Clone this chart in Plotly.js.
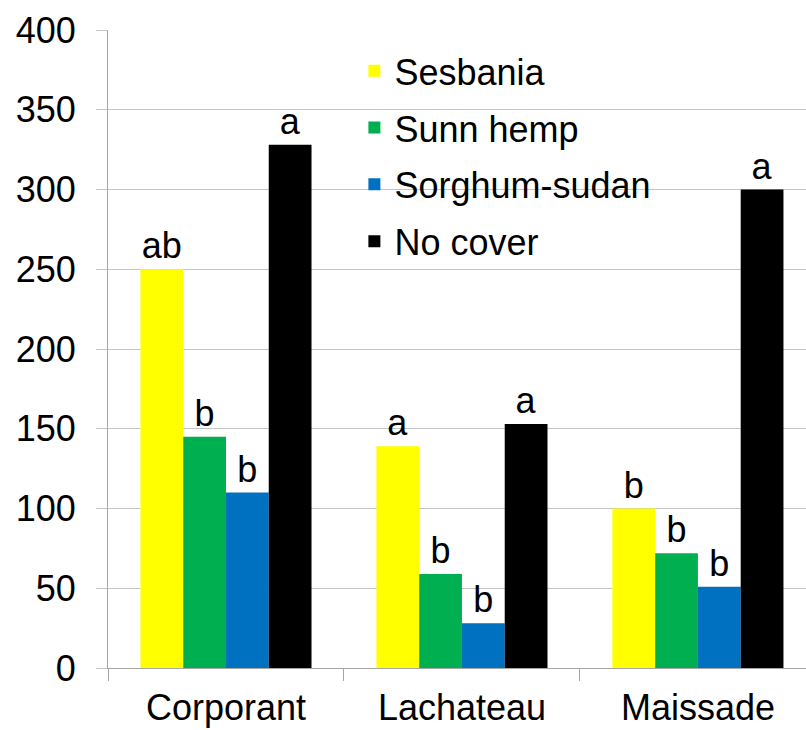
<!DOCTYPE html>
<html>
<head>
<meta charset="utf-8">
<script src="https://cdn.plot.ly/plotly-3.0.1.min.js"></script>
<style>html,body{margin:0;padding:0;background:#fff;}#chart{width:806px;height:730px;}</style>
</head>
<body>
<div id="chart"></div>
<script>
var sites = ["Corporant", "Lachateau", "Maissade"];
var seriesNames = ["Sesbania", "Sunn hemp", "Sorghum-sudan", "No cover"];
var sesbania = [250, 139, 100];
var sunnHemp = [145, 59, 72];
var sorghumSudan = [110, 28, 51];
var noCover = [328, 153, 300];
var sesbaniaLetters = ["ab", "a", "b"];
var sunnHempLetters = ["b", "b", "b"];
var sorghumLetters = ["b", "b", "b"];
var noCoverLetters = ["a", "a", "a"];
var yTicks = [0, 50, 100, 150, 200, 250, 300, 350, 400];

var colors = ["#FFFF00", "#00B050", "#0070C0", "#000000"];
var values = [sesbania, sunnHemp, sorghumSudan, noCover];
var letters = [sesbaniaLetters, sunnHempLetters, sorghumLetters, noCoverLetters];

var traces = seriesNames.map(function (name, i) {
  return {
    type: "bar",
    name: name,
    x: sites,
    y: values[i],
    text: letters[i],
    textposition: "outside",
    cliponaxis: false,
    constraintext: "none",
    textfont: {size: 36, color: "#000", family: "Liberation Sans, Arial, sans-serif"},
    marker: {color: colors[i]},
    legendgroup: "g" + i,
    hoverinfo: "x+y+name"
  };
});

var grid = "#c4c4c4";
var layout = {
  width: 806,
  height: 730,
  margin: {l: 108, r: 0, t: 30, b: 62},
  paper_bgcolor: "#fff",
  plot_bgcolor: "#fff",
  font: {family: "Liberation Sans, Arial, sans-serif", size: 36, color: "#000"},
  barmode: "group",
  bargap: 0.275,
  bargroupgap: 0,
  showlegend: true,
  legend: {
    x: 0.353, xanchor: "left",
    y: 0.983, yanchor: "top",
    bgcolor: "rgba(0,0,0,0)",
    borderwidth: 0,
    traceorder: "grouped",
    tracegroupgap: 7,
    font: {size: 36, color: "#000"}
  },
  xaxis: {
    type: "category",
    range: [-0.5, 2.458],
    tickson: "boundaries",
    ticks: "outside",
    ticklen: 12,
    tickcolor: "#a6a6a6",
    tickwidth: 1,
    ticklabelstandoff: 8,
    showline: true,
    linecolor: "#a6a6a6",
    linewidth: 1,
    showgrid: false,
    tickfont: {size: 36, color: "#000"},
    fixedrange: true
  },
  yaxis: {
    range: [0, 400],
    tickvals: yTicks,
    ticks: "outside",
    ticklen: 11,
    tickcolor: grid,
    ticklabelstandoff: 13,
    showgrid: true,
    gridcolor: grid,
    gridwidth: 1,
    zeroline: false,
    showline: true,
    linecolor: "#a6a6a6",
    linewidth: 1,
    tickfont: {size: 36, color: "#000"},
    fixedrange: true
  }
};

Plotly.newPlot("chart", traces, layout, {displayModeBar: false, staticPlot: true});
</script>
</body>
</html>
